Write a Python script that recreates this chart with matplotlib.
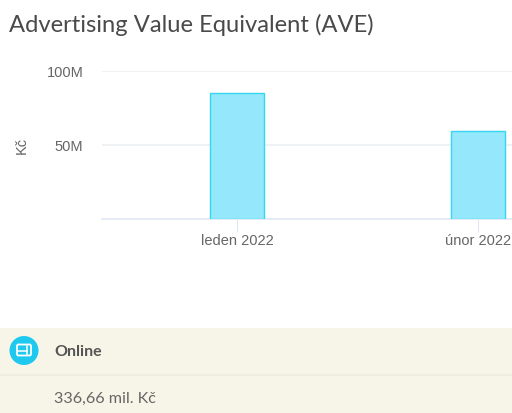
import matplotlib
matplotlib.use('Agg')
from matplotlib import pyplot as plt
from matplotlib.patches import Circle, Rectangle, FancyBboxPatch

mesice = ['leden 2022', 'únor 2022']
hodnoty = [85, 59.5]
yticks = [0, 50, 100]
ylabels = ['', '50M', '100M']

plt.rcParams['font.family'] = ['Liberation Sans', 'DejaVu Sans']

W, H = 512, 414
fig = plt.figure(figsize=(W / 100, H / 100), dpi=100)
fig.patch.set_facecolor('white')

# osa grafu, x 0 = leden, 1 = unor
ax = fig.add_axes([101.5 / W, 1 - 219.7 / H, (W - 101.5) / W, (219.7 - 71.7) / H])
ax.bar([0, 1], hodnoty, width=0.226, color='#95e8fb', edgecolor='#35d6f2', linewidth=1, zorder=3)
ax.set_xlim(-0.562, 1.142)
ax.set_ylim(0, 100)
ax.set_xticks([0, 1])
ax.set_xticklabels(mesice, fontsize=10.5, color='#666666')
ax.set_yticks(yticks)
ax.set_yticklabels(ylabels, fontsize=10.5, color='#666666')
ax.tick_params(axis='y', length=0, pad=13)
ax.tick_params(axis='x', length=9.4, width=0.8, color='#dfe6f4', pad=1.2)
ax.grid(axis='y', color='#eef1f5', linewidth=1.3)
ax.set_axisbelow(True)
for s in ax.spines.values():
    s.set_visible(False)
ax.spines['bottom'].set_visible(True)
ax.spines['bottom'].set_color('#e4eaf6')
ax.spines['bottom'].set_linewidth(1.3)

fig.text(22 / W, 1 - 145 / H, 'Kč', rotation=90, fontsize=10.5, color='#666666', ha='center', va='center')
fig.text(9 / W, 1 - 25 / H, 'Advertising Value Equivalent (AVE)', fontsize=17.1, color='#4a4a4a', va='center', family=['Lato', 'DejaVu Sans'])

# spodni panel
bg = fig.add_axes([0, 0, 1, 1], zorder=-1)
bg.set_xlim(0, W)
bg.set_ylim(H, 0)
bg.axis('off')
bg.add_patch(Rectangle((0, 328.5), W, 86, facecolor='#f7f5e8', edgecolor='none'))
bg.plot([0, W], [375.5, 375.5], color='#f0eddf', linewidth=1.2)
bg.add_patch(Circle((24, 351.5), 14.5, facecolor='#1fc8ef', edgecolor='none'))
bg.add_patch(FancyBboxPatch((17, 345.5), 14, 11, boxstyle='round,pad=0,rounding_size=1.5', facecolor='none', edgecolor='white', linewidth=1.3))
bg.plot([27, 27], [346.5, 355.5], color='white', linewidth=1.1)
bg.plot([18, 27], [351.5, 351.5], color='white', linewidth=1.1)
bg.text(54.5, 352.5, 'Online', fontsize=11.5, color='#555555', va='center', fontweight='bold', family=['Lato', 'DejaVu Sans'])
bg.text(54.5, 398.5, '336,66 mil. Kč', fontsize=11.6, color='#666666', va='center', family=['Lato', 'DejaVu Sans'])

fig.savefig('out.png', dpi=100)
